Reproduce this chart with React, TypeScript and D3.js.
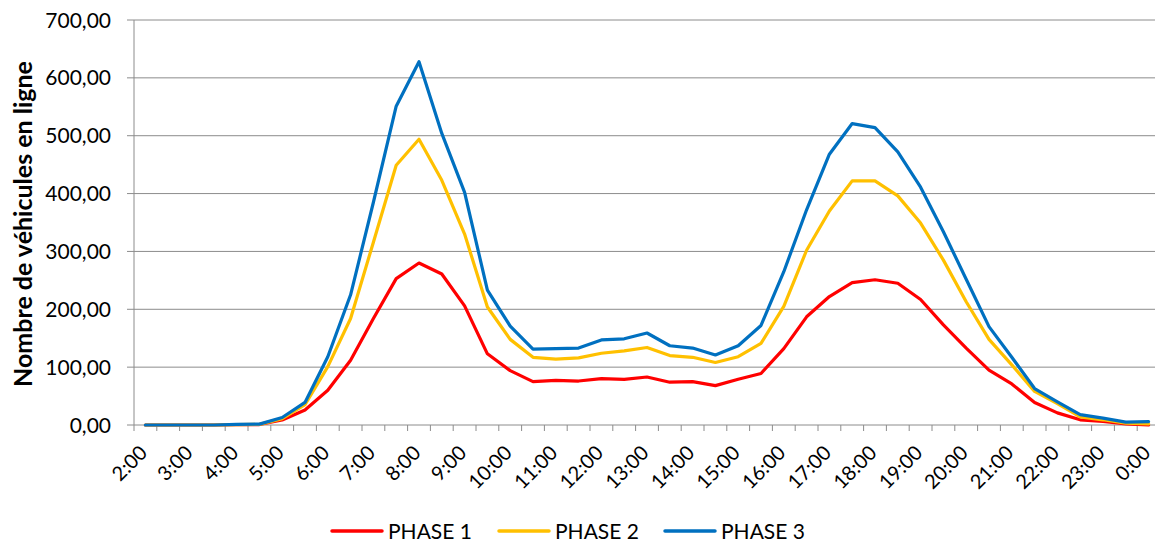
import * as d3 from "d3";
import React from "react";

// half-hour categories, 2:00 -> 0:00
const times = [
  "2:00", "2:30", "3:00", "3:30", "4:00", "4:30", "5:00", "5:30", "6:00", "6:30",
  "7:00", "7:30", "8:00", "8:30", "9:00", "9:30", "10:00", "10:30", "11:00", "11:30",
  "12:00", "12:30", "13:00", "13:30", "14:00", "14:30", "15:00", "15:30", "16:00", "16:30",
  "17:00", "17:30", "18:00", "18:30", "19:00", "19:30", "20:00", "20:30", "21:00", "21:30",
  "22:00", "22:30", "23:00", "23:30", "0:00",
];

const xTickLabels = [
  "2:00", "3:00", "4:00", "5:00", "6:00", "7:00", "8:00", "9:00", "10:00", "11:00", "12:00",
  "13:00", "14:00", "15:00", "16:00", "17:00", "18:00", "19:00", "20:00", "21:00", "22:00",
  "23:00", "0:00",
];

const yTicks = [0, 100, 200, 300, 400, 500, 600, 700];

const phase1 = [
  0, 0, 0, 0, 0.5, 0.8, 8.6, 26, 60, 112, 184, 253, 280, 261, 206, 123, 94, 75, 77, 76,
  80, 79, 83, 74, 75, 68, 79, 89, 132, 187, 222, 246, 251, 245, 217, 173, 133, 95, 71, 39,
  21, 9, 6, 2, 0,
];

const phase2 = [
  0, 0, 0, 0, 0.5, 1, 11, 35, 101, 184, 316, 449, 494, 423, 330, 204, 148, 117, 114, 116,
  124, 128, 134, 120, 117, 108, 118, 141, 205, 302, 370, 422, 422, 396, 349, 285, 213, 148, 104, 58,
  37, 14, 9, 3, 2,
];

const phase3 = [
  0, 0, 0, 0, 1, 1.5, 13, 39, 118, 225, 385, 551, 628, 504, 402, 233, 171, 131, 132, 133,
  147, 149, 159, 137, 133, 121, 137, 172, 265, 372, 468, 521, 514, 472, 411, 334, 252, 170, 117, 63,
  40, 18, 12, 5, 6,
];

const seriesNames = ["PHASE 1", "PHASE 2", "PHASE 3"];
const seriesValues = [phase1, phase2, phase3];
const seriesColors = ["#FF0000", "#FFC000", "#0070C0"];

const W = 1155;
const H = 545;
const FONT = "Lato, 'Open Sans', sans-serif";

export default function App() {
  const left = 134, top = 20, bottom = 425, right = 1160;

  const x = d3.scaleBand<string>().domain(times).range([left, right]).padding(0);
  const y = d3.scaleLinear().domain([0, 700]).range([bottom, top]);

  const fmt = d3.formatLocale({ decimal: ",", thousands: " ", grouping: [3], currency: ["", " €"] }).format(".2f");

  const line = d3.line<number>()
    .x((_, i) => (x(times[i]) ?? 0) + x.bandwidth() / 2)
    .y(d => y(d));

  const step = x.step();
  const boundaries = d3.range(times.length + 1).map(i => left + i * step);

  // legend layout
  const legendY = 531;
  const legendX = [332, 499, 665];

  return (
    <div style={{ position: "absolute", left: 0, top: 0 }}>
      <svg width={W} height={H} style={{ display: "block", background: "#fff" }} fontFamily={FONT}>
        {/* gridlines */}
        {yTicks.map(t => (
          <line key={"g" + t} x1={left} x2={right} y1={y(t)} y2={y(t)} stroke="#8c8c8c" strokeWidth={1} />
        ))}
        {/* y axis */}
        <line x1={left} x2={left} y1={top} y2={bottom} stroke="#8c8c8c" strokeWidth={1} />
        {yTicks.map(t => (
          <g key={"yt" + t}>
            <line x1={left - 7} x2={left} y1={y(t)} y2={y(t)} stroke="#8c8c8c" strokeWidth={1} />
            <text x={111} y={y(t)} dy="0.36em" textAnchor="end" fontSize={21} fill="#000">
              {fmt(t)}
            </text>
          </g>
        ))}
        {/* x tick marks */}
        {boundaries.map((bx, i) => (
          <line key={"xt" + i} x1={bx} x2={bx} y1={bottom} y2={bottom + 6} stroke="#8c8c8c" strokeWidth={1} />
        ))}
        {/* x labels */}
        {xTickLabels.map(lab => {
          const cx = (x(lab) ?? 0) + x.bandwidth() / 2 + 3;
          const cy = 454;
          return (
            <text key={"xl" + lab} x={cx} y={cy} textAnchor="end" fontSize={20} fill="#000"
              transform={`rotate(-45 ${cx} ${cy})`}>
              {lab}
            </text>
          );
        })}
        {/* series */}
        {seriesValues.map((vals, si) => (
          <path key={"s" + si} d={line(vals) ?? ""} fill="none" stroke={seriesColors[si]}
            strokeWidth={3.2} strokeLinejoin="round" strokeLinecap="round" />
        ))}
        {/* y title */}
        <text transform="translate(32,224) rotate(-90)" textAnchor="middle" fontSize={25}
          fontWeight="bold" fill="#000">
          Nombre de véhicules en ligne
        </text>
        {/* legend */}
        {seriesNames.map((name, i) => (
          <g key={"lg" + i}>
            <line x1={legendX[i]} x2={legendX[i] + 50} y1={legendY} y2={legendY}
              stroke={seriesColors[i]} strokeWidth={3.5} strokeLinecap="round" />
            <text x={legendX[i] + 56} y={legendY} dy="0.36em" fontSize={21} fill="#000">{name}</text>
          </g>
        ))}
      </svg>
    </div>
  );
}
